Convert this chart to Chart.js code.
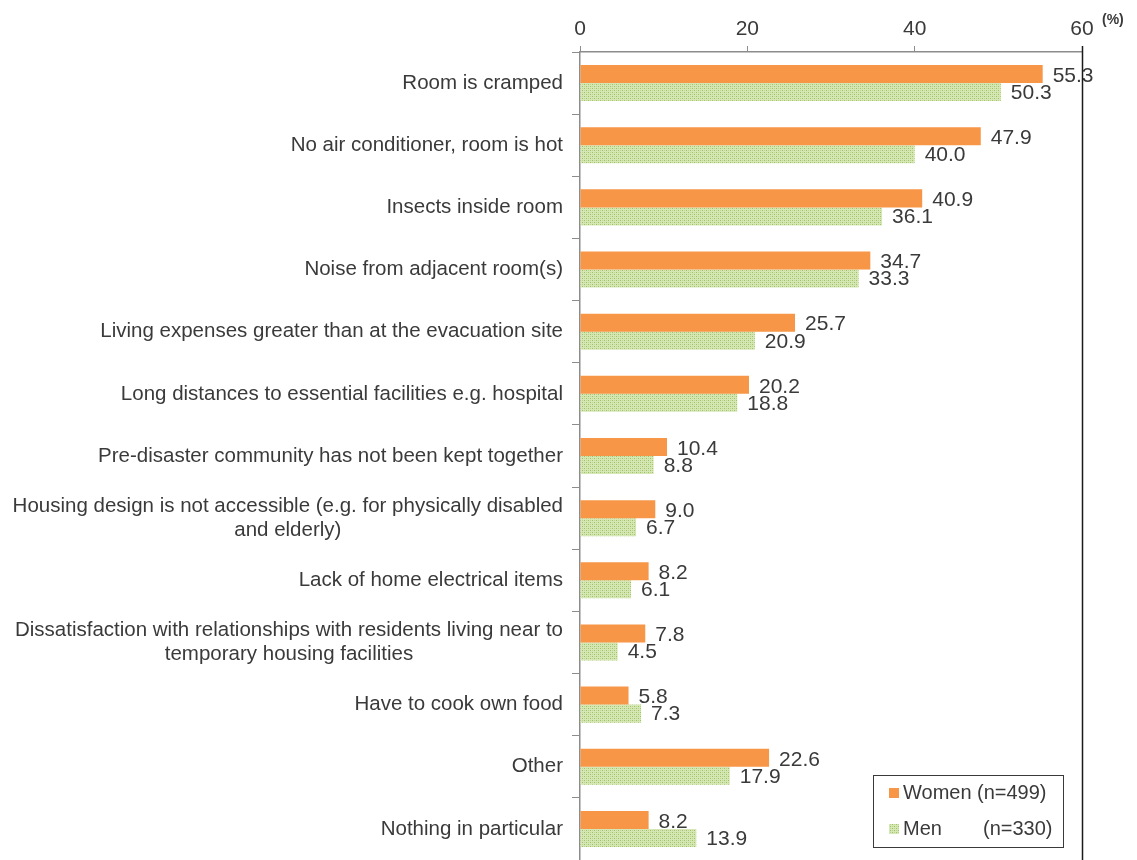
<!DOCTYPE html>
<html>
<head>
<meta charset="utf-8">
<title>Problems with temporary housing</title>
<script src="https://cdn.jsdelivr.net/npm/chart.js@4"></script>
<style>
  body { margin: 0; background: #fff; }
  #wrap { position: relative; width: 1137px; height: 860px; }
</style>
</head>
<body>
<div id="wrap"><canvas id="myChart"></canvas></div>
<script>
// categories (multi-line labels are arrays of lines)
const categories = [
  ["Room is cramped"],
  ["No air conditioner, room is hot"],
  ["Insects inside room"],
  ["Noise from adjacent room(s)"],
  ["Living expenses greater than at the evacuation site"],
  ["Long distances to essential facilities e.g. hospital"],
  ["Pre-disaster community has not been kept together"],
  ["Housing design is not accessible (e.g. for physically disabled", "and elderly)"],
  ["Lack of home electrical items"],
  ["Dissatisfaction with relationships with residents living near to", "temporary housing facilities"],
  ["Have to cook own food"],
  ["Other"],
  ["Nothing in particular"],
];
const women = [55.3, 47.9, 40.9, 34.7, 25.7, 20.2, 10.4, 9.0, 8.2, 7.8, 5.8, 22.6, 8.2];
const men = [50.3, 40.0, 36.1, 33.3, 20.9, 18.8, 8.8, 6.7, 6.1, 4.5, 7.3, 17.9, 13.9];
const seriesNames = ["Women", "Men"];
const sampleSizes = [499, 330];
const xTicks = [0, 20, 40, 60];

const FONT = "'Liberation Sans', Arial, sans-serif";
const TEXT = "#3a3a3a";
const ORANGE = "#f79646";

// dotted green fill for the men series
const makeDots = () => {
  const c = document.createElement("canvas");
  c.width = 4;
  c.height = 4;
  const g = c.getContext("2d");
  g.fillStyle = "#d6e7b6";
  g.fillRect(0, 0, 4, 4);
  g.fillStyle = "#9fc163";
  g.fillRect(0, 0, 1, 1);
  g.fillRect(2, 2, 1, 1);
  g.fillStyle = "#bcd58c";
  g.fillRect(2, 0, 1, 1);
  g.fillRect(0, 2, 1, 1);
  return g.createPattern(c, "repeat");
};
const dots = makeDots();

// category labels: block right-aligned, lines centred within the block
const categoryLabels = {
  id: "categoryLabels",
  afterDraw(chart) {
    const ctx = chart.ctx;
    const y = chart.scales.y;
    const right = chart.chartArea.left - 17;
    ctx.save();
    ctx.font = "20.5px " + FONT;
    ctx.fillStyle = TEXT;
    ctx.textBaseline = "middle";
    ctx.textAlign = "center";
    categories.forEach((lines, i) => {
      const cy = y.getPixelForValue(i);
      const w = Math.max(...lines.map((l) => ctx.measureText(l).width));
      const cx = right - w / 2;
      const lh = 24;
      const y0 = cy - ((lines.length - 1) * lh) / 2;
      lines.forEach((l, k) => ctx.fillText(l, cx, y0 + k * lh));
    });
    ctx.restore();
  },
};

// value next to each bar
const valueLabels = {
  id: "valueLabels",
  afterDatasetsDraw(chart) {
    const ctx = chart.ctx;
    ctx.save();
    ctx.font = "21px " + FONT;
    ctx.fillStyle = TEXT;
    ctx.textBaseline = "middle";
    ctx.textAlign = "left";
    chart.data.datasets.forEach((ds, d) => {
      chart.getDatasetMeta(d).data.forEach((bar, i) => {
        ctx.fillText(ds.data[i].toFixed(1), bar.x + 10, bar.y + (d === 0 ? 2 : 1));
      });
    });
    ctx.restore();
  },
};

// right frame line, unit label and boxed legend
const extras = {
  id: "extras",
  afterDraw(chart) {
    const ctx = chart.ctx;
    const a = chart.chartArea;
    ctx.save();
    ctx.strokeStyle = "#1a1a1a";
    ctx.lineWidth = 1.5;
    ctx.beginPath();
    ctx.moveTo(a.right + 0.5, a.top - 6);
    ctx.lineTo(a.right + 0.5, a.bottom);
    ctx.stroke();

    ctx.fillStyle = TEXT;
    ctx.font = "bold 14px " + FONT;
    ctx.textBaseline = "middle";
    ctx.fillText("(%)", a.right + 20, 20);

    // legend box
    ctx.strokeStyle = "#3a3a3a";
    ctx.lineWidth = 1;
    ctx.strokeRect(873.5, 775.5, 190, 72);
    ctx.font = "20px " + FONT;
    chart.data.datasets.forEach((ds, d) => {
      const cy = 793 + d * 36;
      ctx.fillStyle = ds.backgroundColor;
      ctx.fillRect(889, cy - 5, 10, 10);
      ctx.fillStyle = TEXT;
      ctx.fillText(seriesNames[d], 903, cy);
      ctx.fillText("(n=" + sampleSizes[d] + ")", d === 0 ? 977 : 983, cy);
    });
    ctx.restore();
  },
};

const ctx = document.getElementById("myChart").getContext("2d");
const myChart = new Chart(ctx, {
  type: "bar",
  data: {
    labels: categories.map((l) => l.join(" ")),
    datasets: [
      {
        label: seriesNames[0],
        data: women,
        backgroundColor: ORANGE,
        borderWidth: 0,
        categoryPercentage: 0.58,
        barPercentage: 1,
      },
      {
        label: seriesNames[1],
        data: men,
        backgroundColor: dots,
        borderWidth: 0,
        categoryPercentage: 0.58,
        barPercentage: 1,
      },
    ],
  },
  options: {
    indexAxis: "y",
    responsive: true,
    maintainAspectRatio: false,
    animation: false,
    layout: { padding: { top: 0, right: 55, bottom: 0, left: 0 } },
    plugins: {
      legend: { display: false },
      tooltip: { enabled: false },
    },
    scales: {
      x: {
        position: "top",
        min: 0,
        max: 60,
        afterBuildTicks: (s) => {
          s.ticks = xTicks.map((v) => ({ value: v }));
        },
        afterFit: (s) => {
          s.height = 52;
        },
        ticks: {
          color: TEXT,
          font: { family: FONT, size: 21 },
          padding: 4,
        },
        grid: {
          drawOnChartArea: false,
          drawTicks: true,
          tickLength: 6,
          color: "#8c8c8c",
        },
        border: { color: "#8c8c8c", width: 1.5 },
      },
      y: {
        offset: true,
        ticks: { display: false },
        afterFit: (s) => {
          s.width = 580;
        },
        grid: {
          offset: true,
          drawOnChartArea: false,
          drawTicks: true,
          tickLength: 8,
          color: "#8c8c8c",
        },
        border: { color: "#8c8c8c", width: 1.5 },
      },
    },
  },
  plugins: [categoryLabels, valueLabels, extras],
});
</script>
</body>
</html>
